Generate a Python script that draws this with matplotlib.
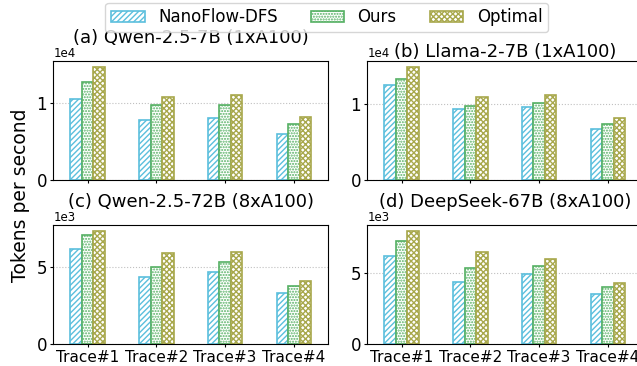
import numpy as np
import matplotlib
matplotlib.use("Agg")
from matplotlib import pyplot as plt
from matplotlib.ticker import MultipleLocator

traces = ["Trace#1", "Trace#2", "Trace#3", "Trace#4"]
methods = ["NanoFlow-DFS", "Ours", "Optimal"]

titles = [
    "(a) Qwen-2.5-7B (1xA100)",
    "(b) Llama-2-7B (1xA100)",
    "(c) Qwen-2.5-72B (8xA100)",
    "(d) DeepSeek-67B (8xA100)",
]

# tokens per second, per trace
qwen7b_nanoflow = [10520, 7790, 8050, 5970]
qwen7b_ours = [12730, 9700, 9700, 7310]
qwen7b_optimal = [14670, 10820, 11000, 8140]

llama7b_nanoflow = [12460, 9340, 9560, 6710]
llama7b_ours = [13250, 9740, 10170, 7410]
llama7b_optimal = [14870, 10880, 11140, 8110]

qwen72b_nanoflow = [6210, 4390, 4710, 3300]
qwen72b_ours = [7110, 5040, 5330, 3800]
qwen72b_optimal = [7390, 5910, 6020, 4110]

deepseek67b_nanoflow = [6200, 4360, 4950, 3560]
deepseek67b_ours = [7310, 5370, 5490, 4050]
deepseek67b_optimal = [8010, 6530, 5990, 4310]

panels = [
    (qwen7b_nanoflow, qwen7b_ours, qwen7b_optimal),
    (llama7b_nanoflow, llama7b_ours, llama7b_optimal),
    (qwen72b_nanoflow, qwen72b_ours, qwen72b_optimal),
    (deepseek67b_nanoflow, deepseek67b_ours, deepseek67b_optimal),
]
tick_step = [1e4, 1e4, 5e3, 5e3]

colors = ["#5bbfdd", "#55b063", "#a8a84c"]
hatches = ["//////", "......", "xxxxxx"]

plt.rcParams["hatch.linewidth"] = 1.0

fig = plt.figure(figsize=(6.37, 3.66), dpi=100)

# axes boxes in figure fraction: left, bottom, width, height
boxes = [
    [0.0837, 0.508, 0.4317, 0.325],
    [0.5766, 0.508, 0.4317, 0.325],
    [0.0837, 0.060, 0.4317, 0.325],
    [0.5766, 0.060, 0.4317, 0.325],
]

x = np.arange(len(traces))
width = 0.167

handles = []
for i, (series, box) in enumerate(zip(panels, boxes)):
    ax = fig.add_axes(box)
    for j, vals in enumerate(series):
        b = ax.bar(x + (j - 1) * width, vals, width,
                   facecolor="white", edgecolor=colors[j],
                   hatch=hatches[j], linewidth=1.2, label=methods[j])
        if i == 0:
            handles.append(b)
    ax.set_xlim(-0.5, 3.5)
    ax.set_ylim(0, max(max(s) for s in series) * 1.05)
    ax.yaxis.set_major_locator(MultipleLocator(tick_step[i]))
    ax.ticklabel_format(axis="y", style="sci", scilimits=(0, 0))
    ax.yaxis.get_offset_text().set_fontsize(8.5)
    ax.set_axisbelow(True)
    ax.yaxis.grid(True, linestyle=":", color="#c0c0c0", linewidth=0.8)
    ax.set_xticks(x)
    if i >= 2:
        ax.set_xticklabels(traces, fontsize=11)
    else:
        ax.set_xticklabels([])
    ax.tick_params(axis="x", length=2.5, pad=1.5)
    ax.tick_params(axis="y", labelsize=12, length=2.5, pad=2)
    ax.set_title(titles[i], fontsize=13, pad=0.5)

fig.text(0.032, 0.466, "Tokens per second", rotation=90,
         ha="center", va="center", fontsize=13.5)

fig.legend(handles, methods, loc="upper center", bbox_to_anchor=(0.513, 1.0),
           ncol=3, fontsize=12, frameon=True, borderaxespad=0.15,
           borderpad=0.35, handleheight=0.7)

fig.savefig("out.png", dpi=100)
